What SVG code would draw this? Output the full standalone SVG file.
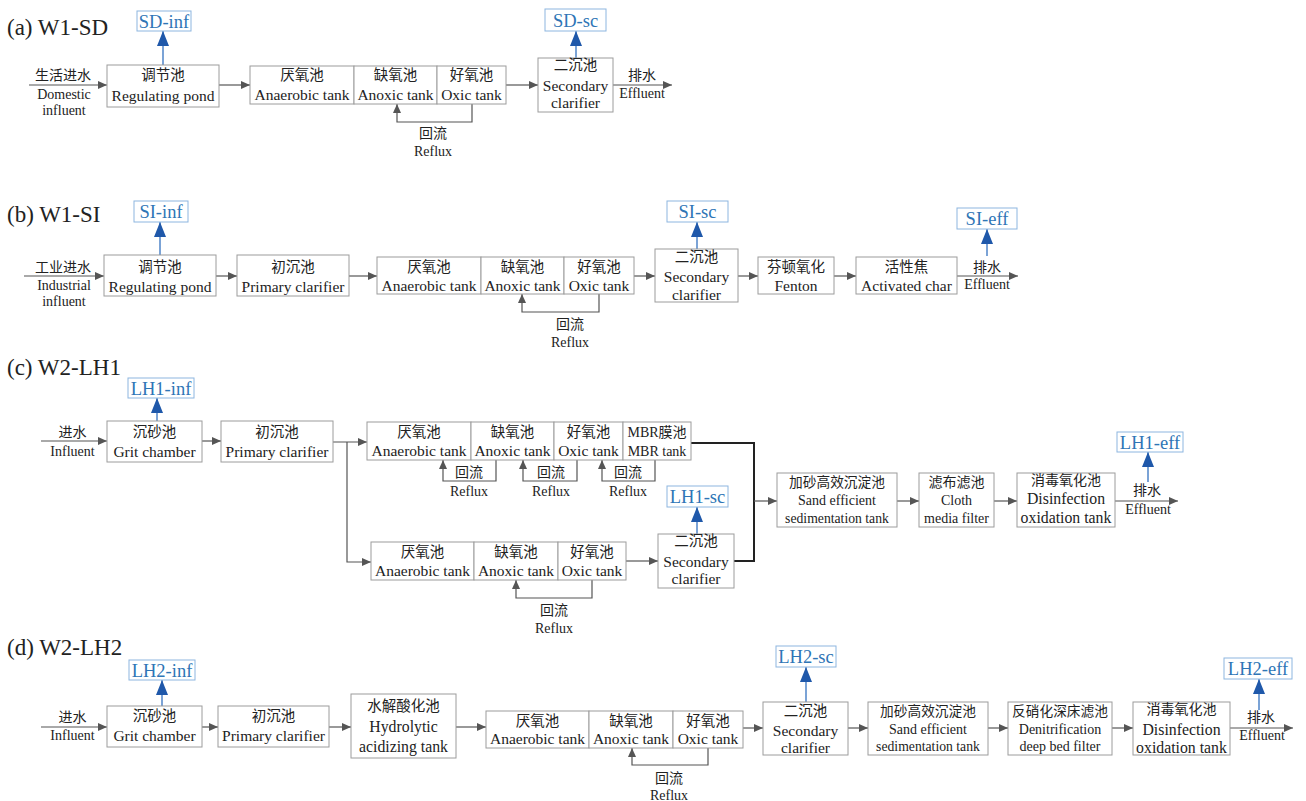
<svg xmlns="http://www.w3.org/2000/svg" width="1306" height="801" viewBox="0 0 1306 801">
<style>
.box{fill:#fff;stroke:#9c9c9c;stroke-width:1}
.lbl{fill:#fff;stroke:#8db6e0;stroke-width:1}
.c{stroke:#555;stroke-width:1.2;fill:none}
.k{stroke:#222;stroke-width:2;fill:none}
.b{stroke:#4f84c9;stroke-width:1.5;fill:none}
text{font-family:"Liberation Serif","Noto Sans CJK SC",serif;font-size:15.5px;fill:#222;text-anchor:middle}
.cn{font-size:14.5px}
.s{font-size:14px}
.m{font-size:13.7px}
.d{font-size:15.8px}
.bt{font-size:18.5px;fill:#2e75b6}
.ti{font-size:23px;text-anchor:start}
</style>
<defs>
<marker id="ag" markerUnits="userSpaceOnUse" markerWidth="9" markerHeight="8" viewBox="0 0 9 8" refX="9" refY="4" orient="auto"><path d="M0,0 L9,4 L0,8 z" fill="#555"/></marker>
<marker id="ab" markerUnits="userSpaceOnUse" markerWidth="15" markerHeight="12" viewBox="0 0 15 12" refX="15" refY="6" orient="auto"><path d="M0,0 L15,6 L0,12 z" fill="#1f58aa"/></marker>
</defs>

<!-- titles -->
<text class="ti" x="7" y="35">(a) W1-SD</text>
<text class="ti" x="7" y="222">(b) W1-SI</text>
<text class="ti" x="7" y="375">(c) W2-LH1</text>
<text class="ti" x="7" y="655">(d) W2-LH2</text>

<g id="connectors">
<!-- (a) -->
<path class="c" d="M29,85 H107" marker-end="url(#ag)"/>
<path class="c" d="M219,85 H250" marker-end="url(#ag)"/>
<path class="c" d="M472,104 V122 H397 V104" marker-end="url(#ag)"/>
<path class="c" d="M506,85 H538" marker-end="url(#ag)"/>
<path class="c" d="M613,85 H672" marker-end="url(#ag)"/>
<path class="b" d="M163,65 V31" marker-end="url(#ab)"/>
<path class="b" d="M576,58 V31" marker-end="url(#ab)"/>
<!-- (b) -->
<path class="c" d="M24,276 H104" marker-end="url(#ag)"/>
<path class="c" d="M216,276 H237" marker-end="url(#ag)"/>
<path class="c" d="M349,276 H377" marker-end="url(#ag)"/>
<path class="c" d="M599,294 V312 H522 V294" marker-end="url(#ag)"/>
<path class="c" d="M634,276 H655" marker-end="url(#ag)"/>
<path class="c" d="M738,276 H758" marker-end="url(#ag)"/>
<path class="c" d="M834,276 H856" marker-end="url(#ag)"/>
<path class="c" d="M957,276 H1018" marker-end="url(#ag)"/>
<path class="b" d="M160,255 V222" marker-end="url(#ab)"/>
<path class="b" d="M697,249 V222" marker-end="url(#ab)"/>
<path class="b" d="M987,256 V229" marker-end="url(#ab)"/>
<!-- (c) -->
<path class="c" d="M41,441 H107" marker-end="url(#ag)"/>
<path class="c" d="M202,441 H221" marker-end="url(#ag)"/>
<path class="c" d="M333,442 H367" marker-end="url(#ag)"/>
<path class="c" d="M347,442 V562 H371" marker-end="url(#ag)"/>
<path class="c" d="M496,460 V481 H443 V460" marker-end="url(#ag)"/>
<path class="c" d="M577,460 V481 H523 V460" marker-end="url(#ag)"/>
<path class="c" d="M655,460 V481 H602 V460" marker-end="url(#ag)"/>
<path class="c" d="M592,580 V598 H516 V580" marker-end="url(#ag)"/>
<path class="c" d="M626,561 H658" marker-end="url(#ag)"/>
<path class="k" d="M691,443 H754 V561 H734"/>
<path class="c" d="M754,501 H777" marker-end="url(#ag)"/>
<path class="c" d="M897,501 H919" marker-end="url(#ag)"/>
<path class="c" d="M994,501 H1017" marker-end="url(#ag)"/>
<path class="c" d="M1115,501 H1178" marker-end="url(#ag)"/>
<path class="b" d="M157,421 V398" marker-end="url(#ab)"/>
<path class="b" d="M697,534 V507" marker-end="url(#ab)"/>
<path class="b" d="M1148,482 V452" marker-end="url(#ab)"/>
<!-- (d) -->
<path class="c" d="M41,727 H107" marker-end="url(#ag)"/>
<path class="c" d="M202,727 H218" marker-end="url(#ag)"/>
<path class="c" d="M329,727 H351" marker-end="url(#ag)"/>
<path class="c" d="M456,727 H486" marker-end="url(#ag)"/>
<path class="c" d="M708,748 V765 H632 V748" marker-end="url(#ag)"/>
<path class="c" d="M743,728 H763" marker-end="url(#ag)"/>
<path class="c" d="M848,728 H868" marker-end="url(#ag)"/>
<path class="c" d="M988,728 H1008" marker-end="url(#ag)"/>
<path class="c" d="M1112,728 H1133" marker-end="url(#ag)"/>
<path class="c" d="M1230,728 H1293" marker-end="url(#ag)"/>
<path class="b" d="M162,706 V680" marker-end="url(#ab)"/>
<path class="b" d="M806,702 V667" marker-end="url(#ab)"/>
<path class="b" d="M1259,710 V679" marker-end="url(#ab)"/>
</g>

<!-- ===== (a) ===== -->
<g id="a-in"><text class="s" x="63" y="80">生活进水</text><text class="s" x="64" y="99">Domestic</text><text class="s" x="64" y="115">influent</text></g>
<g id="a-reg"><rect class="box" x="107" y="65" width="112" height="42"/><text class="cn" x="163" y="80">调节池</text><text x="163" y="101">Regulating pond</text></g>
<g id="a-sdinf"><rect class="lbl" x="137" y="11" width="54" height="20"/><text class="bt" x="164" y="28">SD-inf</text></g>
<g id="a-ana"><rect class="box" x="250" y="66" width="104" height="38"/><text class="cn" x="302" y="80">厌氧池</text><text x="302" y="100">Anaerobic tank</text></g>
<g id="a-ano"><rect class="box" x="354" y="66" width="83" height="38"/><text class="cn" x="395.5" y="80">缺氧池</text><text x="395.5" y="100">Anoxic tank</text></g>
<g id="a-oxi"><rect class="box" x="437" y="66" width="69" height="38"/><text class="cn" x="471.5" y="80">好氧池</text><text x="471.5" y="100">Oxic tank</text></g>
<g id="a-ref"><text class="s" x="433" y="138">回流</text><text class="s" x="433" y="156">Reflux</text></g>
<g id="a-sc"><rect class="box" x="538" y="58" width="75" height="54"/><text class="cn" x="575.5" y="70">二沉池</text><text x="575.5" y="91">Secondary</text><text x="575.5" y="108">clarifier</text></g>
<g id="a-sdsc"><rect class="lbl" x="545" y="9" width="61" height="22"/><text class="bt" x="575.5" y="27">SD-sc</text></g>
<g id="a-out"><text class="s" x="642" y="80">排水</text><text class="s" x="642" y="98">Effluent</text></g>

<!-- ===== (b) ===== -->
<g id="b-in"><text class="s" x="63" y="272">工业进水</text><text class="s" x="64" y="290">Industrial</text><text class="s" x="64" y="306">influent</text></g>
<g id="b-reg"><rect class="box" x="104" y="255" width="112" height="41"/><text class="cn" x="160" y="272">调节池</text><text x="160" y="292">Regulating pond</text></g>
<g id="b-siinf"><rect class="lbl" x="134" y="201" width="54" height="21"/><text class="bt" x="161" y="218">SI-inf</text></g>
<g id="b-pri"><rect class="box" x="237" y="255" width="112" height="41"/><text class="cn" x="293" y="272">初沉池</text><text x="293" y="292">Primary clarifier</text></g>
<g id="b-ana"><rect class="box" x="377" y="257" width="104" height="37"/><text class="cn" x="429" y="272">厌氧池</text><text x="429" y="291">Anaerobic tank</text></g>
<g id="b-ano"><rect class="box" x="481" y="257" width="83" height="37"/><text class="cn" x="522.5" y="272">缺氧池</text><text x="522.5" y="291">Anoxic tank</text></g>
<g id="b-oxi"><rect class="box" x="564" y="257" width="70" height="37"/><text class="cn" x="599" y="272">好氧池</text><text x="599" y="291">Oxic tank</text></g>
<g id="b-ref"><text class="s" x="570" y="329">回流</text><text class="s" x="570" y="347">Reflux</text></g>
<g id="b-sc"><rect class="box" x="655" y="249" width="83" height="53"/><text class="cn" x="696.5" y="262">二沉池</text><text x="696.5" y="282">Secondary</text><text x="696.5" y="300">clarifier</text></g>
<g id="b-sisc"><rect class="lbl" x="667" y="201" width="61" height="21"/><text class="bt" x="697.5" y="218">SI-sc</text></g>
<g id="b-fen"><rect class="box" x="758" y="257" width="76" height="37"/><text class="cn" x="796" y="272">芬顿氧化</text><text x="796" y="291">Fenton</text></g>
<g id="b-act"><rect class="box" x="856" y="257" width="101" height="37"/><text class="cn" x="906.5" y="272">活性焦</text><text x="906.5" y="291">Activated char</text></g>
<g id="b-out"><text class="s" x="987" y="272">排水</text><text class="s" x="987" y="289">Effluent</text></g>
<g id="b-sieff"><rect class="lbl" x="957" y="208" width="60" height="21"/><text class="bt" x="987" y="225">SI-eff</text></g>

<!-- ===== (c) ===== -->
<g id="c-in"><text class="s" x="72.5" y="437">进水</text><text class="s" x="72.5" y="456">Influent</text></g>
<g id="c-grit"><rect class="box" x="107" y="421" width="95" height="41"/><text class="cn" x="154.5" y="437">沉砂池</text><text x="154.5" y="457">Grit chamber</text></g>
<g id="c-lh1inf"><rect class="lbl" x="128" y="378" width="66" height="20"/><text class="bt" x="161" y="395">LH1-inf</text></g>
<g id="c-pri"><rect class="box" x="221" y="421" width="112" height="41"/><text class="cn" x="277" y="437">初沉池</text><text x="277" y="457">Primary clarifier</text></g>
<g id="c-u-ana"><rect class="box" x="367" y="422" width="104" height="38"/><text class="cn" x="419" y="437">厌氧池</text><text x="419" y="456">Anaerobic tank</text></g>
<g id="c-u-ano"><rect class="box" x="471" y="422" width="83" height="38"/><text class="cn" x="512.5" y="437">缺氧池</text><text x="512.5" y="456">Anoxic tank</text></g>
<g id="c-u-oxi"><rect class="box" x="554" y="422" width="69" height="38"/><text class="cn" x="588.5" y="437">好氧池</text><text x="588.5" y="456">Oxic tank</text></g>
<g id="c-u-mbr"><rect class="box" x="623" y="422" width="68" height="38"/><text class="s" x="657" y="437">MBR膜池</text><text class="s" x="657" y="456">MBR tank</text></g>
<g id="c-ref1"><text class="s" x="469" y="477">回流</text><text class="s" x="469" y="496">Reflux</text></g>
<g id="c-ref2"><text class="s" x="551" y="477">回流</text><text class="s" x="551" y="496">Reflux</text></g>
<g id="c-ref3"><text class="s" x="628" y="477">回流</text><text class="s" x="628" y="496">Reflux</text></g>
<g id="c-l-ana"><rect class="box" x="371" y="542" width="103" height="38"/><text class="cn" x="422.5" y="557">厌氧池</text><text x="422.5" y="576">Anaerobic tank</text></g>
<g id="c-l-ano"><rect class="box" x="474" y="542" width="84" height="38"/><text class="cn" x="516" y="557">缺氧池</text><text x="516" y="576">Anoxic tank</text></g>
<g id="c-l-oxi"><rect class="box" x="558" y="542" width="68" height="38"/><text class="cn" x="592" y="557">好氧池</text><text x="592" y="576">Oxic tank</text></g>
<g id="c-ref4"><text class="s" x="554" y="615">回流</text><text class="s" x="554" y="633">Reflux</text></g>
<g id="c-sc"><rect class="box" x="658" y="534" width="76" height="54"/><text class="cn" x="696" y="546">二沉池</text><text x="696" y="567">Secondary</text><text x="696" y="584">clarifier</text></g>
<g id="c-lh1sc"><rect class="lbl" x="667" y="486" width="61" height="21"/><text class="bt" x="697.5" y="503">LH1-sc</text></g>
<g id="c-sand"><rect class="box" x="777" y="473" width="120" height="54"/><text class="m" x="837" y="487">加砂高效沉淀池</text><text class="s" x="837" y="505">Sand efficient</text><text class="m" x="837" y="523">sedimentation tank</text></g>
<g id="c-cloth"><rect class="box" x="919" y="473" width="75" height="54"/><text class="s" x="956.5" y="487">滤布滤池</text><text class="s" x="956.5" y="505">Cloth</text><text class="s" x="956.5" y="523">media filter</text></g>
<g id="c-dis"><rect class="box" x="1017" y="473" width="98" height="54"/><text class="s" x="1066" y="485">消毒氧化池</text><text class="d" x="1066" y="504">Disinfection</text><text class="d" x="1066" y="523">oxidation tank</text></g>
<g id="c-out"><text class="s" x="1147" y="495">排水</text><text class="s" x="1148" y="514">Effluent</text></g>
<g id="c-lh1eff"><rect class="lbl" x="1117" y="432" width="66" height="20"/><text class="bt" x="1150" y="449">LH1-eff</text></g>

<!-- ===== (d) ===== -->
<g id="d-in"><text class="s" x="72.5" y="722">进水</text><text class="s" x="72.5" y="740">Influent</text></g>
<g id="d-grit"><rect class="box" x="107" y="706" width="95" height="41"/><text class="cn" x="154.5" y="721">沉砂池</text><text x="154.5" y="741">Grit chamber</text></g>
<g id="d-lh2inf"><rect class="lbl" x="129" y="660" width="66" height="20"/><text class="bt" x="162" y="677">LH2-inf</text></g>
<g id="d-pri"><rect class="box" x="218" y="706" width="111" height="41"/><text class="cn" x="273.5" y="721">初沉池</text><text x="273.5" y="741">Primary clarifier</text></g>
<g id="d-hyd"><rect class="box" x="351" y="694" width="105" height="64"/><text class="cn" x="403.5" y="711">水解酸化池</text><text class="d" x="403.5" y="732">Hydrolytic</text><text class="d" x="403.5" y="752">acidizing tank</text></g>
<g id="d-ana"><rect class="box" x="486" y="711" width="103" height="37"/><text class="cn" x="537.5" y="726">厌氧池</text><text x="537.5" y="744">Anaerobic tank</text></g>
<g id="d-ano"><rect class="box" x="589" y="711" width="84" height="37"/><text class="cn" x="631" y="726">缺氧池</text><text x="631" y="744">Anoxic tank</text></g>
<g id="d-oxi"><rect class="box" x="673" y="711" width="70" height="37"/><text class="cn" x="708" y="726">好氧池</text><text x="708" y="744">Oxic tank</text></g>
<g id="d-ref"><text class="s" x="669" y="783">回流</text><text class="s" x="669" y="800">Reflux</text></g>
<g id="d-sc"><rect class="box" x="763" y="702" width="85" height="53"/><text class="cn" x="805.5" y="716">二沉池</text><text x="805.5" y="736">Secondary</text><text x="805.5" y="753">clarifier</text></g>
<g id="d-lh2sc"><rect class="lbl" x="776" y="646" width="60" height="21"/><text class="bt" x="806" y="663">LH2-sc</text></g>
<g id="d-sand"><rect class="box" x="868" y="702" width="120" height="53"/><text class="m" x="928" y="716">加砂高效沉淀池</text><text class="s" x="928" y="734">Sand efficient</text><text class="m" x="928" y="751">sedimentation tank</text></g>
<g id="d-den"><rect class="box" x="1008" y="702" width="104" height="53"/><text class="m" x="1060" y="716">反硝化深床滤池</text><text class="s" x="1060" y="734">Denitrification</text><text class="s" x="1060" y="751">deep bed filter</text></g>
<g id="d-dis"><rect class="box" x="1133" y="702" width="97" height="53"/><text class="s" x="1181.5" y="714">消毒氧化池</text><text class="d" x="1181.5" y="735">Disinfection</text><text class="d" x="1181.5" y="753">oxidation tank</text></g>
<g id="d-out"><text class="s" x="1261" y="722">排水</text><text class="s" x="1262" y="740">Effluent</text></g>
<g id="d-lh2eff"><rect class="lbl" x="1224" y="658" width="68" height="21"/><text class="bt" x="1258" y="675">LH2-eff</text></g>
</svg>
